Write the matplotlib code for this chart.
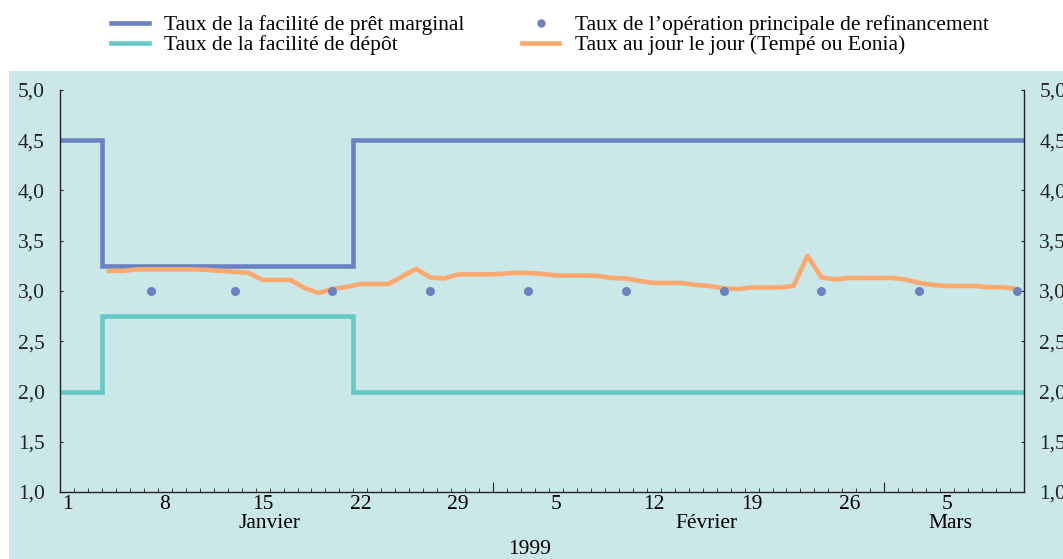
import numpy as np
import matplotlib.pyplot as plt
from matplotlib.patches import Rectangle
from matplotlib.lines import Line2D
import matplotlib.transforms as mtransforms

# days counted from 1 Jan 1999 (day 1) to 10 Mar 1999 (day 69)
change_days = [1, 4, 22, 70]
marginal_rate = [4.5, 3.25, 4.5, 4.5]
deposit_rate = [2.0, 2.75, 2.0, 2.0]

refi_days = [7, 13, 20, 27, 34, 41, 48, 55, 62, 69]
refi_rate = [3.0, 3.0, 3.0, 3.0, 3.0, 3.0, 3.0, 3.0, 3.0, 3.0]

eonia_days = list(range(4, 70))
eonia_rate = [3.20, 3.20, 3.215, 3.215, 3.215, 3.215, 3.215, 3.21, 3.20, 3.19,
              3.18, 3.11, 3.11, 3.11, 3.03, 2.98, 3.02, 3.04, 3.07, 3.07,
              3.07, 3.145, 3.22, 3.135, 3.125, 3.165, 3.165, 3.165, 3.17, 3.18,
              3.18, 3.17, 3.155, 3.155, 3.155, 3.15, 3.13, 3.125, 3.10, 3.08,
              3.08, 3.08, 3.06, 3.05, 3.027, 3.02, 3.035, 3.035, 3.035, 3.05,
              3.35, 3.135, 3.115, 3.13, 3.13, 3.13, 3.13, 3.115, 3.08, 3.06,
              3.05, 3.05, 3.05, 3.037, 3.037, 3.02]

day_ticks = [1, 8, 15, 22, 29, 36, 43, 50, 57, 64]
day_labels = ["1", "8", "15", "22", "29", "5", "12", "19", "26", "5"]
month_pos = [15.5, 46.8, 64.2]
month_names = ["Janvier", "Février", "Mars"]
month_bounds = [31.5, 59.5]
y_ticks = [1.0, 1.5, 2.0, 2.5, 3.0, 3.5, 4.0, 4.5, 5.0]
y_labels = ["1,0", "1,5", "2,0", "2,5", "3,0", "3,5", "4,0", "4,5", "5,0"]

bg = "#cae8e8"
c_marg = "#6b82c2"
c_dep = "#66c9c4"
c_eon = "#fca86e"

FS = 15.5
plt.rcParams['font.family'] = ['Liberation Serif', 'DejaVu Serif']
plt.rcParams['font.size'] = FS

fig = plt.figure(figsize=(10.63, 5.59), dpi=100)
fig.patches.append(Rectangle((9 / 1063, 0), 1, 1 - 71 / 559, transform=fig.transFigure,
                             facecolor=bg, edgecolor='none', zorder=-5))

ax = fig.add_axes([60 / 1063, 1 - 492 / 559, 964 / 1063, 402 / 559])
ax.patch.set_visible(False)

x_steps = np.array(change_days) - 0.5
ax.plot(x_steps, marginal_rate, drawstyle='steps-post', color=c_marg, lw=3.3, solid_joinstyle='miter')
ax.plot(x_steps, deposit_rate, drawstyle='steps-post', color=c_dep, lw=3.3, solid_joinstyle='miter')
ax.plot(eonia_days, eonia_rate, color=c_eon, lw=3.3, solid_joinstyle='round')
ax.plot(refi_days, refi_rate, ls='', marker='o', ms=5.5, color=c_marg, zorder=5)

ax.set_xlim(0.5, 69.5)
ax.set_ylim(1.0, 5.0)
ax.spines['top'].set_visible(False)
for s in ['left', 'right', 'bottom']:
    ax.spines[s].set_linewidth(1.0)
    ax.spines[s].set_color('#222222')

ax.set_yticks(y_ticks, y_labels)
ax.tick_params(axis='y', direction='in', length=2.5, pad=11, left=True, right=True,
               labelleft=True, labelright=True, colors='#222222', labelsize=FS)

ax.set_xticks(day_ticks, day_labels)
ax.set_xticks(np.arange(0.5, 70, 1), minor=True)
ax.tick_params(axis='x', which='major', length=0, pad=2, labelsize=FS)
ax.tick_params(axis='x', which='minor', direction='in', length=3, color='#222222')

sec = ax.secondary_xaxis('bottom')
sec.set_xticks(month_bounds, ["", ""])
sec.tick_params(direction='in', length=7, color='#222222')
sec.spines['bottom'].set_visible(False)

trans = mtransforms.blended_transform_factory(ax.transData, fig.transFigure)
for p, n in zip(month_pos, month_names):
    ax.text(p, 1 - 523 / 559, n, transform=trans, ha='center', va='center', fontsize=FS)
fig.text(530 / 1063, 1 - 549 / 559, "1999", ha='center', va='center', fontsize=FS)

handles = [
    Line2D([], [], color=c_marg, lw=3.3),
    Line2D([], [], color=c_dep, lw=3.3),
    Line2D([], [], ls='', marker='o', ms=5, color=c_marg),
    Line2D([], [], color=c_eon, lw=3.3),
]
labels = ["Taux de la facilité de prêt marginal", "Taux de la facilité de dépôt",
          "Taux de l\u2019opération principale de refinancement", "Taux au jour le jour (Tempé ou Eonia)"]
fig.legend(handles, labels, ncol=2, loc='upper left', bbox_to_anchor=(95 / 1063, 1.0 + 1 / 559),
           frameon=False, fontsize=FS, handlelength=1.75, handletextpad=0.72,
           columnspacing=2.65, labelspacing=0.0, borderaxespad=0.35)

fig.savefig("out.png", dpi=100)
